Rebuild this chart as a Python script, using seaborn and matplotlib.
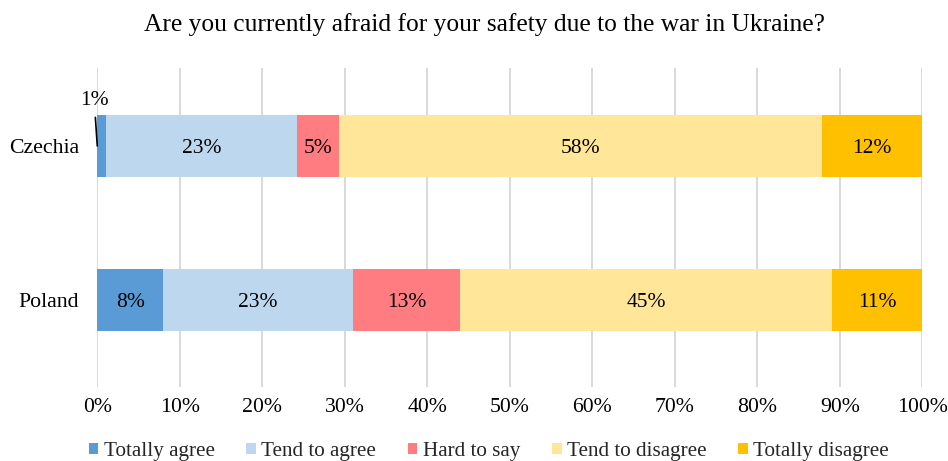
import numpy as np
import pandas as pd
import matplotlib
matplotlib.use("Agg")
import matplotlib.pyplot as plt
import seaborn as sns
from matplotlib.patches import Patch

# ---- data ----
countries = ["Czechia", "Poland"]
categories = ["Totally agree", "Tend to agree", "Hard to say", "Tend to disagree", "Totally disagree"]
totally_agree = [1, 8]
tend_to_agree = [23, 23]
hard_to_say = [5, 13]
tend_to_disagree = [58, 45]
totally_disagree = [12, 11]
tick_values = [0, 10, 20, 30, 40, 50, 60, 70, 80, 90, 100]
tick_labels = ["0%", "10%", "20%", "30%", "40%", "50%", "60%", "70%", "80%", "90%", "100%"]
title = "Are you currently afraid for your safety due to the war in Ukraine?"

colors = ["#5B9BD5", "#BDD7EE", "#FF7C80", "#FFE699", "#FFC000"]

sns.set_theme(style="white")
plt.rcParams["font.family"] = ["Liberation Serif", "DejaVu Serif"]

fig = plt.figure(figsize=(9.48, 4.61), dpi=100)
ax = fig.add_axes([0.1026, 0.1605, 0.8703, 0.692])

raw = np.array([totally_agree, tend_to_agree, hard_to_say, tend_to_disagree, totally_disagree], dtype=float)
share = raw / raw.sum(axis=0) * 100  # 100% stacked
cum = share.cumsum(axis=0)

# draw cumulative bars from the widest to the narrowest -> stacked look
for i in reversed(range(len(categories))):
    df = pd.DataFrame({"country": countries, "end": cum[i]})
    sns.barplot(data=df, x="end", y="country", orient="h", color=colors[i],
                saturation=1, width=0.4, ax=ax, linewidth=0)

# segment labels
for i in range(len(categories)):
    for j in range(len(countries)):
        val = raw[i, j]
        xc = cum[i, j] - share[i, j] / 2
        label = f"{int(round(val))}%"
        if share[i, j] >= 3:
            ax.text(xc, j, label, ha="center", va="center_baseline", fontsize=15.5, color="black")
        else:
            ax.annotate(label, xy=(cum[i, j] - share[i, j], j), xytext=(-3, 48),
                        textcoords="offset pixels", ha="center", va="center_baseline",
                        fontsize=15.5, color="black",
                        arrowprops=dict(arrowstyle="-", color="black", lw=1.2,
                                        shrinkA=3, shrinkB=0))

ax.set_xlim(0, 100)
ax.set_ylim(1.565, -0.506)
ax.set_xticks(tick_values)
ax.set_xticklabels(tick_labels)
ax.tick_params(axis="x", length=0, pad=8, labelsize=15.7, labelcolor="black")
ax.tick_params(axis="y", length=0, pad=13, labelsize=15.7, labelcolor="black")
ax.set_xlabel("")
ax.set_ylabel("")
for s in ax.spines.values():
    s.set_visible(False)
ax.set_axisbelow(True)
ax.grid(axis="x", color="#D9D9D9", lw=1.4)
ax.grid(axis="y", visible=False)

fig.text(0.5105, 0.946, title, ha="center", va="center", fontsize=18.4, color="black")

handles = [Patch(facecolor=c, edgecolor="none", label=l) for c, l in zip(colors, categories)]
fig.legend(handles=handles, loc="center", bbox_to_anchor=(0.5155, 0.021), ncol=5,
           frameon=False, fontsize=15.2, handlelength=0.46, handleheight=0.46,
           handletextpad=0.25, columnspacing=1.5, borderpad=0)

fig.savefig("out.png", dpi=100)
